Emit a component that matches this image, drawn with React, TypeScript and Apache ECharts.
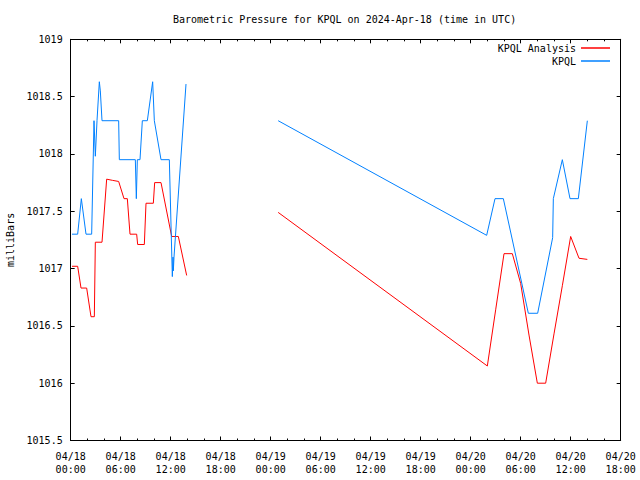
import React, { useEffect, useRef } from "react";
import * as echarts from "echarts";

// Hours since 2024-04-18 00:00 UTC
const analysisHours = [
  0.16, 0.84, 1.24, 1.92, 2.44, 2.84, 2.96, 3.76, 4.32, 5.0, 5.76, 6.4, 6.8, 7.12, 7.92, 8.04, 8.84,
  9.04, 9.92, 10.08, 10.84, 12.12, 12.92, 13.92,
  19,
  24.9, 50, 51, 52, 53, 54, 55, 56, 57, 58, 59, 60, 61, 62,
];
const analysisValues: (number | string)[] = [
  1017.02, 1017.02, 1016.83, 1016.83, 1016.58, 1016.58, 1017.23, 1017.23, 1017.78, 1017.77, 1017.76,
  1017.61, 1017.61, 1017.3, 1017.3, 1017.21, 1017.21, 1017.57, 1017.57, 1017.75, 1017.75, 1017.28,
  1017.28, 1016.94,
  "-",
  1017.49, 1016.15, 1016.64, 1017.13, 1017.13, 1016.87, 1016.42, 1016.0, 1016.0, 1016.43, 1016.85,
  1017.28, 1017.09, 1017.08,
];

const kpqlHours = [
  0.16, 0.84, 1.28, 1.84, 2.52, 2.8, 2.96, 3.16, 3.44, 3.56, 3.76, 5.76, 5.84, 7.76, 7.88, 8.0, 8.32,
  8.6, 9.2, 9.84, 10.04, 10.84, 11.84, 12.2, 12.28, 12.32, 12.4, 13.84,
  19,
  24.9, 49.92, 50.92, 51.92, 54.92, 56.04, 57.84, 57.92, 59.0, 59.92, 60.92, 62.0,
];
const kpqlValues: (number | string)[] = [
  1017.3, 1017.3, 1017.61, 1017.3, 1017.3, 1018.29, 1017.98, 1018.29, 1018.63, 1018.55, 1018.29,
  1018.29, 1017.95, 1017.95, 1017.61, 1017.95, 1017.95, 1018.29, 1018.29, 1018.63, 1018.29, 1017.95,
  1017.95, 1016.93, 1017.1, 1016.98, 1017.1, 1018.61,
  "-",
  1018.29, 1017.29, 1017.61, 1017.61, 1016.61, 1016.61, 1017.27, 1017.61, 1017.95, 1017.61, 1017.61,
  1018.29,
];

const titleText = "Barometric Pressure for KPQL on 2024-Apr-18 (time in UTC)";
const yName = "milliBars";
const seriesNames = ["KPQL Analysis", "KPQL"];
const seriesColors = ["#ff0000", "#0080ff"];

const FONT = "DejaVu Sans Mono";

function fmtX(v: number): string {
  const day = 18 + Math.floor(v / 24);
  const hr = Math.round(v % 24);
  const hh = hr < 10 ? "0" + hr : "" + hr;
  return "04/" + day + "\n" + hh + ":00";
}

export default function App() {
  const ref = useRef<HTMLDivElement>(null);
  useEffect(() => {
    if (!ref.current) return;
    const chart = echarts.init(ref.current, null, { renderer: "svg" });
    const pair = (hs: number[], vs: (number | string)[]) => hs.map((h, i) => [h, vs[i]]);
    const axisCommon = {
      axisLine: { show: true, onZero: false, lineStyle: { color: "#000", width: 1 } },
      splitLine: { show: false },
    };
    const xCommon = {
      type: "value",
      min: 0,
      max: 66,
      interval: 6,
      ...axisCommon,
      axisTick: { show: true, inside: true, length: 4, lineStyle: { color: "#000" } },
      minorTick: { show: true, splitNumber: 3, length: 2, lineStyle: { color: "#000" } },
    };
    const yCommon = {
      type: "value",
      min: 1015.5,
      max: 1019,
      interval: 0.5,
      ...axisCommon,
      axisTick: { show: true, inside: true, length: 4, lineStyle: { color: "#000" } },
    };
    chart.setOption({
      animation: false,
      backgroundColor: "#fff",
      title: {
        text: titleText,
        left: 173,
        top: 14,
        padding: 0,
        textStyle: { fontFamily: FONT, fontSize: 10, fontWeight: "normal", color: "#000" },
      },
      legend: [
        {
          data: [seriesNames[0]],
          right: 30,
          top: 43,
          padding: 0,
          align: "right",
          icon: "rect",
          itemWidth: 29,
          itemHeight: 1.5,
          textStyle: { fontFamily: FONT, fontSize: 10, color: "#000" },
        },
        {
          data: [seriesNames[1]],
          right: 30,
          top: 56,
          padding: 0,
          align: "right",
          icon: "rect",
          itemWidth: 29,
          itemHeight: 1.5,
          textStyle: { fontFamily: FONT, fontSize: 10, color: "#000" },
        },
      ],
      grid: {
        left: 70.67,
        right: 19.33,
        top: 39.33,
        bottom: 39.5,
        containLabel: false,
        outerBoundsMode: "none",
      },
      xAxis: [
        {
          ...xCommon,
          position: "bottom",
          axisLabel: {
            show: true,
            formatter: fmtX,
            fontFamily: FONT,
            fontSize: 10,
            color: "#000",
            margin: 9,
            lineHeight: 13,
            showMinLabel: true,
            showMaxLabel: true,
          },
        },
        { ...xCommon, position: "top", axisLabel: { show: false } },
      ],
      yAxis: [
        {
          ...yCommon,
          position: "left",
          name: yName,
          nameLocation: "middle",
          nameRotate: 90,
          nameGap: 54,
          nameTextStyle: { fontFamily: FONT, fontSize: 10, color: "#000" },
          axisLabel: {
            show: true,
            fontFamily: FONT,
            fontSize: 10,
            color: "#000",
            margin: 8,
            formatter: (v: number) => String(v),
            showMinLabel: true,
            showMaxLabel: true,
          },
        },
        { ...yCommon, position: "right", axisLabel: { show: false } },
      ],
      series: [
        {
          name: seriesNames[0],
          type: "line",
          xAxisIndex: 0,
          yAxisIndex: 0,
          data: pair(analysisHours, analysisValues),
          showSymbol: false,
          symbol: "none",
          connectNulls: false,
          color: seriesColors[0],
          lineStyle: { color: seriesColors[0], width: 1 },
        },
        {
          name: seriesNames[1],
          type: "line",
          xAxisIndex: 0,
          yAxisIndex: 0,
          data: pair(kpqlHours, kpqlValues),
          showSymbol: false,
          symbol: "none",
          connectNulls: false,
          color: seriesColors[1],
          lineStyle: { color: seriesColors[1], width: 1 },
        },
      ],
    });
    return () => chart.dispose();
  }, []);
  return (
    <div
      ref={ref}
      style={{ position: "fixed", left: 0, top: 0, width: 640, height: 480, background: "#fff" }}
    />
  );
}
